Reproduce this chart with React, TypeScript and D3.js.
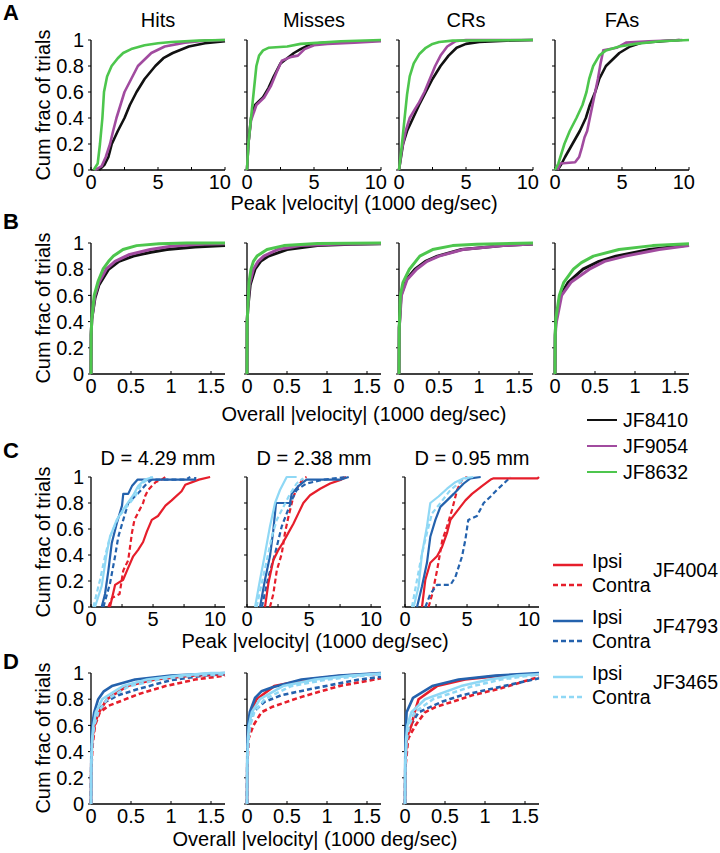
import React from 'react';
import * as d3 from 'd3';

type Pt = [number, number];

// ---------- categories / ticks ----------
const conditions = ['Hits', 'Misses', 'CRs', 'FAs'];
const distances = ['D = 4.29 mm', 'D = 2.38 mm', 'D = 0.95 mm'];
const miceAB = ['JF8410', 'JF9054', 'JF8632'];
const miceCD = ['JF4004', 'JF4793', 'JF3465'];
const sides = ['Ipsi', 'Contra'];
const yTicks = [0, 0.2, 0.4, 0.6, 0.8, 1];
const peakTicks = [0, 5, 10];
const peakMinor = [0, 2.5, 5, 7.5, 10];
const overallTicks = [0, 0.5, 1, 1.5];

// ---------- Row A: peak |velocity| ----------
const aHits8410: Pt[] = [[0.6,0],[1,0.04],[1.3,0.1],[1.55,0.2],[2,0.3],[2.5,0.4],[2.9,0.5],[3.4,0.6],[4,0.7],[4.8,0.8],[5.4,0.86],[6.1,0.9],[7.3,0.95],[8.5,0.975],[10,0.99]];
const aHits9054: Pt[] = [[0.3,0],[0.8,0.03],[1.1,0.1],[1.42,0.2],[1.65,0.3],[1.9,0.4],[2.2,0.5],[2.5,0.6],[3,0.7],[3.5,0.8],[4.5,0.9],[5.5,0.95],[7,0.98],[8.5,0.995],[10,1]];
const aHits8632: Pt[] = [[0.2,0],[0.5,0.05],[0.67,0.2],[0.85,0.4],[0.97,0.6],[1.2,0.72],[1.54,0.8],[2,0.86],[2.4,0.9],[3,0.93],[4,0.96],[5,0.975],[6,0.985],[8,0.995],[10,1]];

const aMiss8410: Pt[] = [[0,0],[0.1,0.2],[0.3,0.4],[0.6,0.5],[1.2,0.56],[1.6,0.63],[2,0.72],[2.5,0.82],[3,0.86],[3.5,0.9],[4,0.93],[4.8,0.97],[6,0.98],[7,0.98]];
const aMiss9054: Pt[] = [[0,0],[0.1,0.2],[0.3,0.38],[0.7,0.5],[1.3,0.56],[1.8,0.65],[2.2,0.75],[2.6,0.84],[3.3,0.87],[3.8,0.88],[4.3,0.93],[5,0.96],[6,0.97],[8,0.98],[10,0.99]];
const aMiss8632: Pt[] = [[0,0],[0.1,0.2],[0.3,0.4],[0.5,0.6],[0.7,0.8],[0.9,0.88],[1.2,0.92],[1.6,0.94],[3,0.95],[4,0.97],[5.5,0.98],[7,0.99],[10,1]];

const aCR8410: Pt[] = [[0,0],[0.3,0.2],[0.6,0.3],[1.05,0.4],[1.5,0.5],[2,0.6],[2.5,0.7],[3.1,0.8],[3.7,0.88],[4.3,0.94],[5,0.97],[6,0.985],[8,0.995],[10,1]];
const aCR9054: Pt[] = [[0,0],[0.2,0.15],[0.5,0.3],[0.8,0.4],[1.2,0.47],[1.5,0.52],[1.9,0.6],[2.3,0.7],[2.7,0.8],[3.1,0.88],[3.6,0.95],[4.2,0.99],[5,1],[10,1]];
const aCR8632: Pt[] = [[0,0],[0.2,0.18],[0.4,0.38],[0.6,0.58],[0.8,0.72],[1.1,0.82],[1.5,0.89],[2,0.94],[2.5,0.97],[3,0.985],[4,0.995],[10,1]];

const aFA8410: Pt[] = [[0.2,0],[0.5,0.05],[0.75,0.1],[1.3,0.2],[1.85,0.3],[2.3,0.4],[2.6,0.5],[3,0.6],[3.3,0.7],[3.8,0.8],[4.3,0.85],[4.8,0.9],[5.6,0.95],[6.5,0.98],[9.3,1]];
const aFA9054: Pt[] = [[0.2,0],[0.4,0.05],[1.5,0.06],[1.8,0.1],[2,0.17],[2.2,0.25],[2.4,0.3],[2.6,0.4],[2.8,0.5],[3,0.6],[3.2,0.7],[3.4,0.82],[3.6,0.92],[4.6,0.94],[5.3,0.98],[7,0.99],[9.5,1]];
const aFA8632: Pt[] = [[0,0],[0.25,0.05],[0.7,0.2],[1.1,0.3],[1.6,0.4],[2.05,0.5],[2.35,0.6],[2.55,0.7],[2.85,0.8],[3.3,0.88],[3.8,0.92],[4.8,0.95],[6,0.97],[7.8,0.99],[10,1]];

// ---------- Row B: overall |velocity| ----------
const bHits8410: Pt[] = [[0,0],[0.002,0.3],[0.01,0.42],[0.05,0.58],[0.1,0.68],[0.22,0.8],[0.35,0.86],[0.53,0.9],[0.75,0.93],[0.95,0.95],[1.3,0.97],[1.68,0.98]];
const bHits9054: Pt[] = [[0,0],[0.002,0.3],[0.01,0.42],[0.05,0.6],[0.1,0.7],[0.19,0.8],[0.3,0.86],[0.47,0.91],[0.74,0.95],[1,0.975],[1.36,0.99],[1.68,0.995]];
const bHits8632: Pt[] = [[0,0],[0.002,0.3],[0.01,0.42],[0.04,0.6],[0.09,0.71],[0.15,0.8],[0.22,0.86],[0.28,0.9],[0.4,0.95],[0.57,0.98],[0.85,0.995],[1.2,1],[1.68,1]];

const bMiss8410: Pt[] = [[0,0],[0.002,0.4],[0.01,0.5],[0.04,0.68],[0.1,0.8],[0.17,0.86],[0.27,0.9],[0.5,0.95],[0.88,0.98],[1.3,0.99],[1.68,0.995]];
const bMiss9054: Pt[] = [[0,0],[0.002,0.4],[0.01,0.5],[0.03,0.68],[0.08,0.8],[0.14,0.86],[0.21,0.9],[0.38,0.95],[0.67,0.98],[1.1,0.99],[1.68,0.997]];
const bMiss8632: Pt[] = [[0,0],[0.002,0.4],[0.01,0.5],[0.025,0.7],[0.05,0.8],[0.08,0.86],[0.125,0.9],[0.25,0.95],[0.46,0.98],[0.88,0.997],[1.68,1]];

const bCR8410: Pt[] = [[0,0],[0.003,0.35],[0.025,0.6],[0.09,0.72],[0.2,0.8],[0.33,0.86],[0.48,0.9],[0.78,0.95],[1.3,0.98],[1.68,0.993]];
const bCR9054: Pt[] = [[0,0],[0.003,0.35],[0.03,0.6],[0.1,0.72],[0.22,0.8],[0.35,0.86],[0.5,0.9],[0.8,0.95],[1.3,0.98],[1.68,0.993]];
const bCR8632: Pt[] = [[0,0],[0.003,0.35],[0.017,0.6],[0.05,0.7],[0.13,0.8],[0.26,0.9],[0.42,0.95],[0.67,0.98],[0.97,0.99],[1.68,1]];

const bFA8410: Pt[] = [[0,0],[0.003,0.3],[0.01,0.4],[0.07,0.6],[0.165,0.7],[0.35,0.8],[0.55,0.86],[0.76,0.9],[1.18,0.95],[1.68,0.985]];
const bFA9054: Pt[] = [[0,0],[0.003,0.28],[0.012,0.38],[0.083,0.6],[0.2,0.7],[0.43,0.8],[0.62,0.86],[0.88,0.9],[1.3,0.95],[1.68,0.98]];
const bFA8632: Pt[] = [[0,0],[0.003,0.3],[0.01,0.42],[0.054,0.6],[0.11,0.7],[0.23,0.8],[0.33,0.85],[0.48,0.9],[0.8,0.95],[1.22,0.98],[1.68,0.995]];

// ---------- Row C: peak |velocity|, by distance ----------
const c1RedI: Pt[] = [[1.53,0],[1.94,0.17],[2.6,0.21],[2.9,0.28],[3.4,0.39],[3.8,0.44],[4.2,0.5],[4.5,0.58],[4.9,0.67],[5.4,0.7],[6,0.78],[6.5,0.82],[7.3,0.89],[7.6,0.94],[8.7,0.98],[9.6,1]];
const c1RedC: Pt[] = [[1.4,0],[1.7,0.07],[2.3,0.1],[2.6,0.28],[3,0.36],[3.3,0.57],[3.5,0.67],[4.2,0.8],[4.35,0.85],[4.6,0.9],[5.2,0.96],[5.7,0.98],[6,1]];
const c1BlueI: Pt[] = [[0.86,0],[1.13,0.1],[1.4,0.28],[1.67,0.49],[2.07,0.64],[2.5,0.78],[2.6,0.87],[3,0.87],[3.3,0.93],[3.76,0.98],[8.4,0.98],[8.4,1]];
const c1BlueC: Pt[] = [[1,0],[1.53,0.18],[1.94,0.39],[2.2,0.54],[2.6,0.67],[3,0.8],[3.95,0.89],[4.5,0.95],[4.9,0.98],[7.6,0.98],[8,1]];
const c1LightI: Pt[] = [[0.32,0],[0.86,0.16],[1.26,0.41],[1.53,0.54],[2.07,0.67],[2.74,0.77],[3.4,0.86],[3.8,0.93],[4.35,0.98],[5,1]];
const c1LightC: Pt[] = [[0.19,0],[0.73,0.21],[1.13,0.39],[1.53,0.54],[2.2,0.69],[2.88,0.77],[3.55,0.85],[4.1,0.95],[4.9,1]];

const c2RedI: Pt[] = [[1.45,0],[1.72,0.18],[2.12,0.36],[2.53,0.44],[2.93,0.5],[3.33,0.57],[3.74,0.64],[4.14,0.72],[4.54,0.8],[5.08,0.86],[5.9,0.91],[6.7,0.95],[7.6,0.98],[8,1]];
const c2RedC: Pt[] = [[1.85,0],[2.12,0.1],[2.4,0.28],[2.8,0.41],[3.06,0.57],[3.33,0.69],[3.74,0.85],[4.14,0.93],[4.54,0.99],[4.8,1]];
const c2BlueI: Pt[] = [[1.05,0],[1.45,0.21],[1.85,0.39],[2.12,0.59],[2.34,0.8],[3.47,0.8],[3.6,0.87],[4.14,0.93],[4.8,0.98],[7.5,0.98],[8.2,1]];
const c2BlueC: Pt[] = [[1.2,0],[1.72,0.23],[2.26,0.41],[2.8,0.62],[3.2,0.72],[3.6,0.82],[4,0.9],[4.8,0.95],[6.2,0.98],[8,1]];
const c2LightI: Pt[] = [[0.65,0],[1.05,0.21],[1.45,0.41],[1.85,0.62],[2.26,0.8],[2.66,0.9],[3.2,1],[4,1]];
const c2LightC: Pt[] = [[0.78,0],[1.18,0.18],[1.6,0.36],[2,0.54],[2.4,0.67],[2.93,0.77],[3.47,0.87],[4,0.95],[4.54,0.99]];

const c3RedI: Pt[] = [[1.37,0],[1.64,0.21],[2.04,0.34],[2.58,0.39],[2.98,0.46],[3.39,0.57],[3.66,0.67],[4.06,0.72],[4.46,0.77],[4.87,0.82],[5.4,0.87],[6.2,0.93],[6.9,0.98],[7.15,0.99],[10.7,0.99],[10.8,1]];
const c3RedC: Pt[] = [[1.9,0],[2.2,0.1],[2.58,0.28],[3,0.51],[3.39,0.62],[3.8,0.75],[4.2,0.9],[4.6,0.98],[5,1]];
const c3BlueI: Pt[] = [[0.97,0],[1.37,0.16],[1.77,0.34],[2.04,0.54],[2.45,0.67],[2.85,0.77],[3.39,0.82],[3.92,0.87],[4.73,0.95],[5.27,0.99],[6.1,1]];
const c3BlueC: Pt[] = [[1.64,0],[2.04,0.1],[2.58,0.17],[3.66,0.17],[4.06,0.23],[4.6,0.39],[4.87,0.52],[5.1,0.67],[5.8,0.7],[6.34,0.8],[6.9,0.85],[7.4,0.9],[7.96,0.95],[8.5,1]];
const c3LightI: Pt[] = [[0.7,0],[1.1,0.16],[1.37,0.41],[1.77,0.62],[2.04,0.8],[2.7,0.85],[3.39,0.91],[4.06,0.96],[4.73,0.99],[5.5,1]];
const c3LightC: Pt[] = [[0.56,0],[0.97,0.21],[1.37,0.41],[1.77,0.57],[2.18,0.72],[2.85,0.8],[3.66,0.9],[4.46,0.96],[5.1,1]];

// ---------- Row D: overall |velocity|, by distance ----------
const d1RedI: Pt[] = [[0,0],[0.003,0.3],[0.015,0.5],[0.05,0.62],[0.1,0.7],[0.2,0.8],[0.45,0.9],[0.8,0.95],[1.25,0.98],[1.68,0.99]];
const d1RedC: Pt[] = [[0,0],[0.003,0.25],[0.02,0.45],[0.05,0.6],[0.11,0.7],[0.22,0.75],[0.39,0.79],[0.6,0.84],[0.93,0.9],[1.3,0.95],[1.68,0.98]];
const d1BlueI: Pt[] = [[0,0],[0.003,0.35],[0.01,0.55],[0.02,0.62],[0.04,0.7],[0.09,0.8],[0.16,0.86],[0.26,0.9],[0.55,0.95],[1,0.98],[1.68,1]];
const d1BlueC: Pt[] = [[0,0],[0.003,0.3],[0.015,0.5],[0.035,0.6],[0.07,0.7],[0.18,0.78],[0.34,0.83],[0.6,0.88],[1,0.945],[1.4,0.98],[1.68,0.99]];
const d1LightI: Pt[] = [[0,0],[0.003,0.3],[0.015,0.5],[0.03,0.6],[0.06,0.7],[0.14,0.8],[0.4,0.9],[0.7,0.95],[1.1,0.98],[1.5,1],[1.68,1]];
const d1LightC: Pt[] = [[0,0],[0.003,0.3],[0.015,0.48],[0.04,0.6],[0.09,0.7],[0.2,0.8],[0.48,0.9],[0.85,0.95],[1.25,0.98],[1.68,0.99]];

const d2RedI: Pt[] = [[0,0],[0.003,0.3],[0.01,0.5],[0.02,0.6],[0.045,0.7],[0.12,0.8],[0.34,0.9],[0.75,0.95],[1.2,0.98],[1.68,0.995]];
const d2RedC: Pt[] = [[0,0],[0.005,0.28],[0.02,0.5],[0.08,0.6],[0.18,0.7],[0.31,0.74],[0.64,0.81],[1.15,0.9],[1.68,0.96]];
const d2BlueI: Pt[] = [[0,0],[0.003,0.35],[0.006,0.5],[0.013,0.6],[0.034,0.7],[0.1,0.81],[0.18,0.86],[0.31,0.89],[0.68,0.95],[1.15,0.98],[1.68,1]];
const d2BlueC: Pt[] = [[0,0],[0.003,0.3],[0.015,0.5],[0.035,0.6],[0.075,0.7],[0.22,0.78],[0.43,0.83],[0.81,0.88],[1.4,0.95],[1.68,0.97]];
const d2LightI: Pt[] = [[0,0],[0.003,0.3],[0.012,0.5],[0.025,0.6],[0.06,0.7],[0.16,0.8],[0.45,0.9],[0.85,0.95],[1.3,0.98],[1.68,0.995]];
const d2LightC: Pt[] = [[0,0],[0.003,0.3],[0.015,0.48],[0.04,0.6],[0.09,0.7],[0.22,0.8],[0.55,0.9],[1,0.95],[1.45,0.98],[1.68,0.99]];

const d3RedI: Pt[] = [[0,0],[0.004,0.3],[0.02,0.5],[0.08,0.6],[0.12,0.7],[0.17,0.8],[0.4,0.9],[0.75,0.95],[1.2,0.98],[1.68,0.99]];
const d3RedC: Pt[] = [[0,0],[0.005,0.28],[0.04,0.5],[0.13,0.6],[0.25,0.7],[0.38,0.74],[0.59,0.78],[0.84,0.83],[1.18,0.88],[1.68,0.97]];
const d3BlueI: Pt[] = [[0,0],[0.003,0.35],[0.008,0.55],[0.02,0.7],[0.1,0.81],[0.34,0.9],[0.67,0.95],[1.13,0.98],[1.68,1]];
const d3BlueC: Pt[] = [[0,0],[0.004,0.3],[0.02,0.5],[0.07,0.6],[0.17,0.7],[0.46,0.78],[0.71,0.83],[1.09,0.88],[1.68,0.96]];
const d3LightI: Pt[] = [[0,0],[0.003,0.3],[0.015,0.5],[0.03,0.6],[0.08,0.7],[0.25,0.8],[0.7,0.9],[1.05,0.95],[1.4,0.98],[1.68,0.99]];
const d3LightC: Pt[] = [[0,0],[0.004,0.3],[0.02,0.48],[0.05,0.6],[0.12,0.7],[0.35,0.8],[0.85,0.9],[1.2,0.95],[1.55,0.98],[1.68,0.985]];

// ---------- styles ----------
const FONT = "Arial, 'Liberation Sans', Helvetica, sans-serif";
const FS = 20;
const LFS = 19.5;
const COL = {
  black: '#111111',
  purple: '#a14b9f',
  green: '#4dc64d',
  red: '#e61e2b',
  blue: '#2462ad',
  light: '#8fd8f5',
};
const DASH = '5,3';

interface Curve { pts: Pt[]; color: string; dashed?: boolean; width: number; }

interface PanelProps {
  left: number; top: number; w: number; h: number;
  xMax: number; xTicks: number[]; xMinor: number[];
  yLabels: boolean; curves: Curve[]; title?: string; titleY?: number;
  lastLabelEnd?: boolean;
}

function Panel({ left, top, w, h, xMax, xTicks, xMinor, yLabels, curves, title, titleY, lastLabelEnd }: PanelProps) {
  const x = d3.scaleLinear().domain([0, xMax]).range([left, left + w]);
  const y = d3.scaleLinear().domain([0, 1]).range([top + h, top]);
  const line = d3.line<Pt>().x(d => x(Math.min(d[0], xMax))).y(d => y(d[1]));
  const bottom = top + h;
  return (
    <g>
      {title && (
        <text x={left + w / 2} y={titleY} textAnchor="middle" fontSize={FS} fontFamily={FONT}>{title}</text>
      )}
      <line x1={left} x2={left + w} y1={bottom} y2={bottom} stroke="#000" strokeWidth={1.3} />
      <line x1={left} x2={left} y1={top} y2={bottom} stroke="#000" strokeWidth={1.3} />
      {yTicks.map(t => (
        <line key={'yt' + t} x1={left - 3} x2={left} y1={y(t)} y2={y(t)} stroke="#000" strokeWidth={1} />
      ))}
      {xMinor.map(t => (
        <line key={'xt' + t} x1={x(t)} x2={x(t)} y1={bottom} y2={bottom - 3} stroke="#000" strokeWidth={1} />
      ))}
      {yLabels && yTicks.map(t => (
        <text key={'yl' + t} x={left - 7} y={y(t)} dy="0.36em" textAnchor="end" fontSize={FS} fontFamily={FONT}>{String(t)}</text>
      ))}
      {xTicks.map((t, i) => {
        const isLast = lastLabelEnd && i === xTicks.length - 1;
        return (
          <text key={'xl' + t} x={isLast ? x(t) + 6 : x(t)} y={bottom + 19}
            textAnchor={isLast ? 'end' : 'middle'} fontSize={FS} fontFamily={FONT}>{String(t)}</text>
        );
      })}
      {curves.map((c, i) => (
        <path key={i} d={line(c.pts) || ''} fill="none" stroke={c.color} strokeWidth={c.width}
          strokeDasharray={c.dashed ? DASH : undefined} strokeLinejoin="round" />
      ))}
    </g>
  );
}

const abCurves = (k8410: Pt[], k9054: Pt[], k8632: Pt[], wd: number): Curve[] => [
  { pts: k8410, color: COL.black, width: wd },
  { pts: k9054, color: COL.purple, width: wd },
  { pts: k8632, color: COL.green, width: wd },
];

const cdCurves = (sets: Pt[][], wd: number): Curve[] => {
  // sets order: redI, redC, blueI, blueC, lightI, lightC
  const [rI, rC, bI, bC, lI, lC] = sets;
  return [
    { pts: rC, color: COL.red, dashed: true, width: wd },
    { pts: bC, color: COL.blue, dashed: true, width: wd },
    { pts: rI, color: COL.red, width: wd },
    { pts: bI, color: COL.blue, width: wd },
    { pts: lC, color: COL.light, dashed: true, width: wd },
    { pts: lI, color: COL.light, width: wd },
  ];
};

const rowAData = [
  [aHits8410, aHits9054, aHits8632],
  [aMiss8410, aMiss9054, aMiss8632],
  [aCR8410, aCR9054, aCR8632],
  [aFA8410, aFA9054, aFA8632],
];
const rowBData = [
  [bHits8410, bHits9054, bHits8632],
  [bMiss8410, bMiss9054, bMiss8632],
  [bCR8410, bCR9054, bCR8632],
  [bFA8410, bFA9054, bFA8632],
];
const rowCData = [
  [c1RedI, c1RedC, c1BlueI, c1BlueC, c1LightI, c1LightC],
  [c2RedI, c2RedC, c2BlueI, c2BlueC, c2LightI, c2LightC],
  [c3RedI, c3RedC, c3BlueI, c3BlueC, c3LightI, c3LightC],
];
const rowDData = [
  [d1RedI, d1RedC, d1BlueI, d1BlueC, d1LightI, d1LightC],
  [d2RedI, d2RedC, d2BlueI, d2BlueC, d2LightI, d2LightC],
  [d3RedI, d3RedC, d3BlueI, d3BlueC, d3LightI, d3LightC],
];

const leftsAB = [91, 247, 399, 555];
const leftsCD = [91, 247, 405];
const PW = 134;
const PH = 130;

export default function App() {
  const yLabel = (cy: number) => (
    <text transform={`translate(50,${cy}) rotate(-90)`} textAnchor="middle" fontSize={FS} fontFamily={FONT}>Cum frac of trials</text>
  );
  const letter = (s: string, yb: number) => (
    <text x={3} y={yb} fontSize={22} fontWeight="bold" fontFamily={FONT}>{s}</text>
  );
  const miceColors = [COL.black, COL.purple, COL.green];
  const cdColors = [COL.red, COL.blue, COL.light];
  const cdLegendY = [565, 621, 677];
  return (
    <svg width={720} height={853} style={{ position: 'absolute', left: 0, top: 0, background: '#fff' }}>
      <rect width={720} height={853} fill="#fff" />
      {letter('A', 20)}
      {letter('B', 229)}
      {letter('C', 458)}
      {letter('D', 669)}

      {/* Row A */}
      {rowAData.map((d, i) => (
        <Panel key={'a' + i} left={leftsAB[i]} top={40} w={PW} h={PH} xMax={10}
          xTicks={peakTicks} xMinor={peakMinor} yLabels={i === 0} lastLabelEnd
          curves={abCurves(d[0], d[1], d[2], 2.6)} title={conditions[i]} titleY={27} />
      ))}
      {yLabel(105)}
      <text x={364} y={210} textAnchor="middle" fontSize={FS} fontFamily={FONT}>Peak |velocity| (1000 deg/sec)</text>

      {/* Row B */}
      {rowBData.map((d, i) => (
        <Panel key={'b' + i} left={leftsAB[i]} top={243} w={PW} h={131} xMax={1.675}
          xTicks={overallTicks} xMinor={overallTicks} yLabels={i === 0}
          curves={abCurves(d[0], d[1], d[2], 3)} />
      ))}
      {yLabel(308)}
      <text x={364} y={421} textAnchor="middle" fontSize={FS} fontFamily={FONT}>Overall |velocity| (1000 deg/sec)</text>

      {/* Legend A/B */}
      {miceAB.map((m, i) => (
        <g key={m}>
          <line x1={587} x2={617} y1={420 + i * 26} y2={420 + i * 26} stroke={miceColors[i]} strokeWidth={2} />
          <text x={623} y={427 + i * 26} fontSize={LFS} fontFamily={FONT}>{m}</text>
        </g>
      ))}

      {/* Row C */}
      {rowCData.map((d, i) => (
        <Panel key={'c' + i} left={leftsCD[i]} top={477} w={PW} h={PH} xMax={10.8}
          xTicks={peakTicks} xMinor={peakMinor} yLabels={i === 0}
          curves={cdCurves(d, 2.2)} title={distances[i]} titleY={465} />
      ))}
      {yLabel(542)}
      <text x={315} y={648} textAnchor="middle" fontSize={FS} fontFamily={FONT}>Peak |velocity| (1000 deg/sec)</text>

      {/* Row D */}
      {rowDData.map((d, i) => (
        <Panel key={'d' + i} left={leftsCD[i]} top={673} w={PW} h={131} xMax={1.675}
          xTicks={overallTicks} xMinor={overallTicks} yLabels={i === 0}
          curves={cdCurves(d, 2.6)} />
      ))}
      {yLabel(738)}
      <text x={315} y={846} textAnchor="middle" fontSize={FS} fontFamily={FONT}>Overall |velocity| (1000 deg/sec)</text>

      {/* Legend C/D */}
      {miceCD.map((m, i) => (
        <g key={m}>
          {sides.map((s, j) => (
            <g key={s}>
              <line x1={553} x2={583} y1={cdLegendY[i] + j * 20} y2={cdLegendY[i] + j * 20}
                stroke={cdColors[i]} strokeWidth={2.5} strokeDasharray={j === 1 ? DASH : undefined} />
              <text x={592} y={cdLegendY[i] + 3 + j * 24} fontSize={LFS} fontFamily={FONT}>{s}</text>
            </g>
          ))}
          <text x={653} y={cdLegendY[i] + 12} fontSize={LFS} fontFamily={FONT}>{m}</text>
        </g>
      ))}
    </svg>
  );
}
